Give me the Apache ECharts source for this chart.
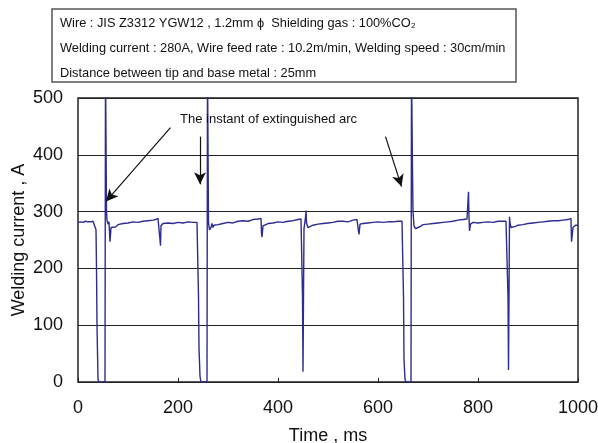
<!DOCTYPE html>
<html>
<head>
	<meta charset="UTF-8">
	<title>Welding current waveform</title>
	<script src="https://cdn.jsdelivr.net/npm/echarts@6/dist/echarts.min.js"></script>
	<style>
		html, body { margin: 0; padding: 0; background: #fff; }
		#chart { width: 598px; height: 443px; }
	</style>
</head>
<body>
	<div id="chart"></div>
<script type="text/javascript">
	var timeMs = [
		0, 5, 10, 15, 20, 25, 30, 34, 36, 37, 38, 40, 42, 54, 55, 56, 57, 58, 60, 62, 64, 66, 70, 75, 80, 90, 100, 110, 120, 130, 140, 150, 155, 160, 163, 164, 165, 166, 170, 180, 190, 200, 210, 220, 230, 238,
		240, 241, 242, 244, 246, 258, 259, 260, 261, 263, 266, 268, 270, 272, 280, 290, 300, 310, 320, 330, 340, 350, 360, 366, 367, 368, 370, 380, 390, 400, 410, 420, 430, 440, 446,
		448, 449, 450, 451, 452, 455, 456, 457, 460, 465, 470, 480, 490, 500, 510, 520, 530, 540, 550, 558, 560, 561, 562, 564, 570, 580, 590, 600, 610, 620, 630, 640, 648,
		650, 651, 652, 654, 656, 666, 667, 668, 669, 670, 672, 675, 680, 685, 690, 700, 710, 720, 730, 740, 750, 760, 770, 778, 780, 781, 782, 783, 785, 790, 800, 810, 820, 830, 840, 850, 856,
		858, 860, 861, 862, 863, 864, 866, 870, 875, 880, 890, 900, 910, 920, 930, 940, 950, 960, 970, 980, 986, 987, 988, 990, 995, 1000
	];
	var currentA = [
		281, 282, 281, 283, 282, 282, 283, 282, 268, 200, 100, 5, 0, 0, 560, 560, 300, 285, 278, 282, 247, 272, 275, 273, 277, 279, 280, 282, 281, 283, 284, 285, 286, 288, 290, 250, 240, 275, 279, 280, 279, 281, 280, 282, 281, 281,
		281, 150, 60, 10, 0, 0, 560, 560, 280, 268, 272, 279, 272, 276, 277, 279, 281, 280, 283, 284, 283, 286, 287, 288, 262, 255, 275, 279, 280, 282, 281, 283, 284, 286, 287,
		285, 150, 18, 150, 270, 290, 302, 280, 272, 274, 276, 278, 279, 280, 281, 283, 283, 282, 285, 286, 287, 265, 260, 278, 279, 280, 281, 282, 281, 282, 282, 283, 283,
		280, 150, 40, 5, 0, 0, 560, 560, 370, 300, 275, 270, 272, 274, 277, 278, 279, 280, 281, 282, 283, 285, 286, 287, 288, 335, 290, 266, 278, 281, 280, 281, 282, 281, 283, 283, 283,
		285, 150, 21, 150, 291, 280, 272, 270, 274, 276, 277, 279, 280, 281, 282, 283, 284, 284, 285, 286, 288, 247, 255, 272, 276, 276
	];
	var yTicks = [0, 100, 200, 300, 400, 500];
	var xTicks = [0, 200, 400, 600, 800, 1000];
	// arrows pointing at the extinguished arc instants: [from, to] as [ms, A]
	var arrowFrom = [[185, 448], [244, 432], [615, 432]];
	var arrowTo = [[56, 318], [244, 348], [647, 344]];

	var infoLines = [
		'Wire : JIS Z3312 YGW12 , 1.2mm \u03d5  Shielding gas : 100%CO\u2082',
		'Welding current : 280A, Wire feed rate : 10.2m/min, Welding speed : 30cm/min',
		'Distance between tip and base metal : 25mm'
	];

	var seriesData = [];
	for (var i = 0; i < timeMs.length; i++) {
		seriesData.push([timeMs[i], currentA[i]]);
	}
	var arrowData = [];
	for (var j = 0; j < arrowFrom.length; j++) {
		arrowData.push([{ coord: arrowFrom[j] }, { coord: arrowTo[j] }]);
	}

	var myChart = echarts.init(document.getElementById('chart'));

	var option = {
		backgroundColor: '#fff',
		animation: false,
		grid: {
			left: 78, right: 20, top: 98, bottom: 61,
			outerBoundsMode: 'none',
			containLabel: false,
			show: true, borderColor: '#222', borderWidth: 1.5
		},
		graphic: [
			{
				type: 'rect',
				shape: { x: 52, y: 9, width: 464, height: 73 },
				style: { fill: '#fff', stroke: '#555', lineWidth: 1.5 }
			},
			{
				type: 'text', left: 60, top: 11,
				style: {
					text: infoLines.join('\n'),
					font: '12.8px "Liberation Sans", Arial, sans-serif',
					lineHeight: 25, fill: '#111'
				}
			},
			{
				type: 'text', left: 180, top: 113,
				style: {
					text: 'The instant of extinguished arc',
					font: '13px "Liberation Sans", Arial, sans-serif',
					fill: '#111'
				},
				z: 100
			}
		],
		xAxis: {
			type: 'value',
			min: xTicks[0], max: xTicks[xTicks.length - 1], interval: 200,
			name: 'Time , ms', nameLocation: 'middle', nameGap: 45,
			nameMoveOverlap: false,
			nameTextStyle: { fontSize: 18, color: '#111', fontFamily: 'Liberation Sans' },
			axisLine: { show: false },
			axisTick: { show: true, inside: true, length: 4, lineStyle: { color: '#222' } },
			axisLabel: {
				fontSize: 18, color: '#111', margin: 17, fontFamily: 'Liberation Sans',
				formatter: function (v) { return String(v); }
			},
			splitLine: { show: false }
		},
		yAxis: {
			type: 'value',
			min: yTicks[0], max: yTicks[yTicks.length - 1], interval: 100,
			name: 'Welding current , A', nameLocation: 'middle', nameGap: 50,
			nameMoveOverlap: false,
			nameTextStyle: { fontSize: 18, color: '#111', fontFamily: 'Liberation Sans' },
			axisLine: { show: false },
			axisTick: { show: false },
			axisLabel: { fontSize: 18, color: '#111', margin: 15, fontFamily: 'Liberation Sans' },
			splitLine: { show: true, lineStyle: { color: '#222', width: 1 } }
		},
		series: [
			{
				name: 'Welding current',
				type: 'line',
				data: seriesData,
				showSymbol: false,
				clip: true,
				lineStyle: { color: '#2c2c94', width: 1.4 },
				markLine: {
					silent: true,
					symbol: ['none', 'arrow'],
					symbolSize: [9, 12],
					label: { show: false },
					lineStyle: { color: '#111', width: 1.2, type: 'solid' },
					data: arrowData
				}
			}
		]
	};

	myChart.setOption(option);
</script>
</body>
</html>
